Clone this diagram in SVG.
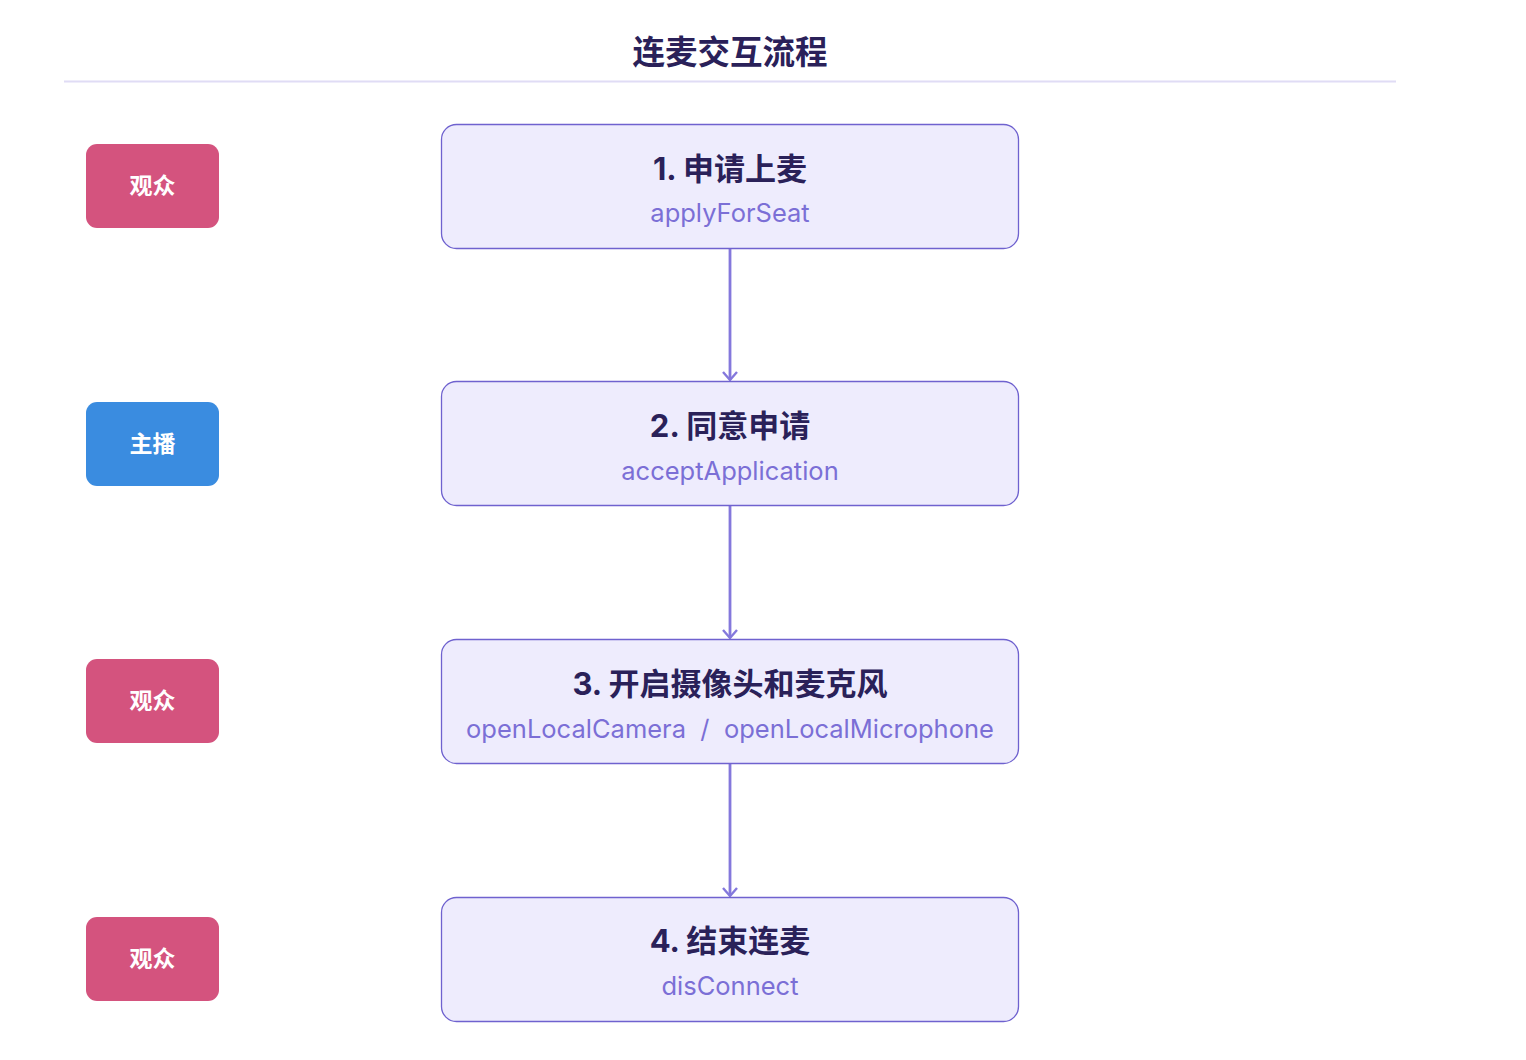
<svg xmlns="http://www.w3.org/2000/svg" width="1526" height="1060" viewBox="0 0 1526 1060">
<style>
.title{font-family:"Noto Sans CJK SC","Liberation Sans",sans-serif;font-size:32.5px;font-weight:700;fill:#2a2159;text-anchor:middle}
.role rect{stroke:none}
.role text{font-family:"Noto Sans CJK SC","Liberation Sans",sans-serif;font-size:23px;font-weight:700;fill:#ffffff;text-anchor:middle}
.step rect{fill:#eeecfd;stroke:#6f62cf;stroke-width:1.3}
.step .h{font-family:Inter,"Noto Sans CJK SC",sans-serif;font-size:31px;font-weight:700;fill:#2a2159;text-anchor:middle}
.step .s{font-family:Inter,"Noto Sans CJK SC",sans-serif;font-size:25.5px;fill:#7b6fd6;text-anchor:middle}
.conn line{stroke:#8478dc;stroke-width:2.8}
</style>
<defs>
<marker id="arr" markerWidth="18" markerHeight="16" refX="9" refY="8" orient="auto" markerUnits="userSpaceOnUse">
<path d="M1,1 L9,8 L1,15" fill="none" stroke="#8478dc" stroke-width="2.4"/>
</marker>
</defs>
<rect width="1526" height="1060" fill="#ffffff"/>
<text class="title" x="730" y="64">连麦交互流程</text>
<line x1="64" y1="81.5" x2="1396" y2="81.5" stroke="#e0dcf5" stroke-width="2"/>

<g class="conn">
<line x1="730" y1="248" x2="730" y2="380" marker-end="url(#arr)"/>
<line x1="730" y1="506" x2="730" y2="638" marker-end="url(#arr)"/>
<line x1="730" y1="763" x2="730" y2="896" marker-end="url(#arr)"/>
</g>

<g id="role1" class="role"><rect x="86" y="144" width="133" height="84" rx="11" fill="#d4537e"/><text x="152.5" y="194">观众</text></g>
<g id="role2" class="role"><rect x="86" y="402" width="133" height="84" rx="11" fill="#3a8ce0"/><text x="152.5" y="452">主播</text></g>
<g id="role3" class="role"><rect x="86" y="659" width="133" height="84" rx="11" fill="#d4537e"/><text x="152.5" y="709">观众</text></g>
<g id="role4" class="role"><rect x="86" y="917" width="133" height="84" rx="11" fill="#d4537e"/><text x="152.5" y="967">观众</text></g>

<g id="step1" class="step"><rect x="441.5" y="124.5" width="577" height="124" rx="15"/><text class="h" x="730" y="180">1. 申请上麦</text><text class="s" x="730" y="222">applyForSeat</text></g>
<g id="step2" class="step"><rect x="441.5" y="381.5" width="577" height="124" rx="15"/><text class="h" x="730" y="437">2. 同意申请</text><text class="s" x="730" y="480">acceptApplication</text></g>
<g id="step3" class="step"><rect x="441.5" y="639.5" width="577" height="124" rx="15"/><text class="h" x="730" y="695">3. 开启摄像头和麦克风</text><text class="s" x="730" y="738" xml:space="preserve">openLocalCamera  /  openLocalMicrophone</text></g>
<g id="step4" class="step"><rect x="441.5" y="897.5" width="577" height="124" rx="15"/><text class="h" x="730" y="952">4. 结束连麦</text><text class="s" x="730" y="995">disConnect</text></g>
</svg>
